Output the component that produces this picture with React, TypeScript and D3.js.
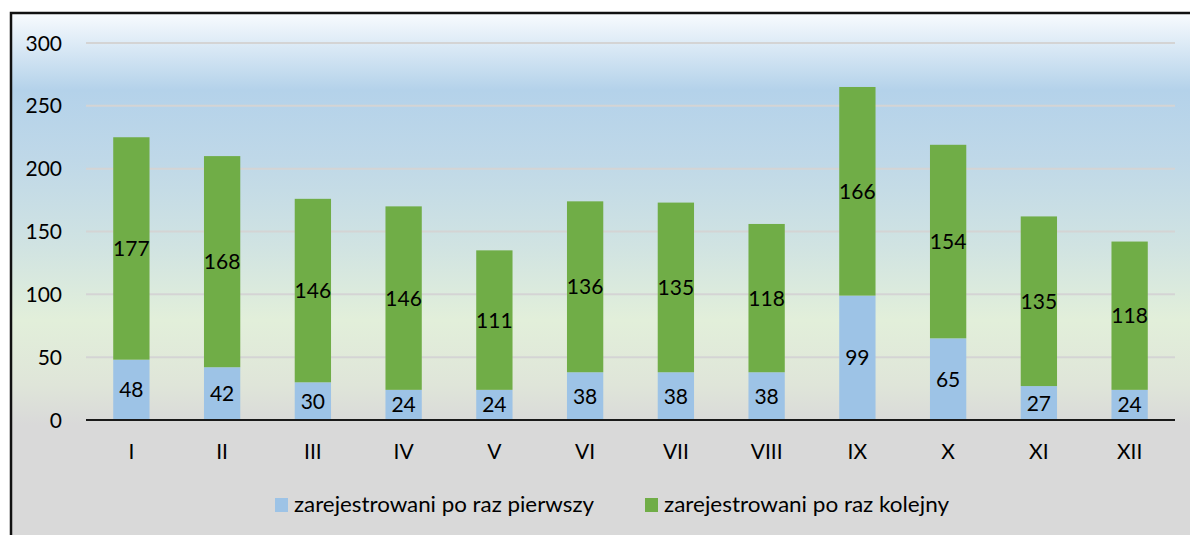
import React from "react";
import * as d3 from "d3";

const categories = ["I", "II", "III", "IV", "V", "VI", "VII", "VIII", "IX", "X", "XI", "XII"];
const firstTime = [48, 42, 30, 24, 24, 38, 38, 38, 99, 65, 27, 24];
const nextTime = [177, 168, 146, 146, 111, 136, 135, 118, 166, 154, 135, 118];
const seriesNames = ["zarejestrowani po raz pierwszy", "zarejestrowani po raz kolejny"];
const seriesColors = ["#9dc3e6", "#70ad47"];
const yTicks = [0, 50, 100, 150, 200, 250, 300];

const W = 1190;
const H = 535;
const FONT = "Lato, 'Open Sans', sans-serif";

export default function App() {
  const x = d3.scaleBand<string>().domain(categories).range([86, 1175]).paddingInner(0.6).paddingOuter(0.3);
  const y = d3.scaleLinear().domain([0, 300]).range([420, 43]);

  const rows = categories.map((c, i) => ({ cat: c, a: firstTime[i], b: nextTime[i] }));
  const stacked = d3.stack<any>().keys(["a", "b"])(rows);

  const legendX = [275, 645];
  const legendLen = [300, 285];

  return (
    <div style={{ position: "absolute", left: 0, top: 0 }}>
      <svg width={W} height={H} style={{ display: "block" }}>
        <defs>
          <linearGradient id="bg" gradientUnits="userSpaceOnUse" x1="0" y1="13" x2="0" y2="535">
            <stop offset={0} stopColor="#f8fbfe" />
            <stop offset={(90 - 13) / 522} stopColor="#b4d2ea" />
            <stop offset={(160 - 13) / 522} stopColor="#bfd8e8" />
            <stop offset={(245 - 13) / 522} stopColor="#d0e3e2" />
            <stop offset={(320 - 13) / 522} stopColor="#e2efda" />
            <stop offset={(385 - 13) / 522} stopColor="#dfe5d9" />
            <stop offset={(425 - 13) / 522} stopColor="#d9d9d9" />
            <stop offset={1} stopColor="#d9d9d9" />
          </linearGradient>
        </defs>
        <rect x={11} y={13} width={W + 10} height={H} fill="url(#bg)" stroke="#111" strokeWidth={2.5} />

        {yTicks.map((t) => (
          <g key={t}>
            {t > 0 && <line x1={86} x2={1175} y1={y(t)} y2={y(t)} stroke="#d4d4d4" strokeWidth={2} />}
            <text x={62} y={y(t)} dy="0.36em" textAnchor="end" fontFamily={FONT} fontSize={21} fill="#000">
              {t}
            </text>
          </g>
        ))}

        {stacked.map((s, si) => (
          <g key={si}>
            {s.map((d, i) => (
              <g key={i}>
                <rect
                  x={x(categories[i])}
                  width={x.bandwidth()}
                  y={y(d[1])}
                  height={y(d[0]) - y(d[1])}
                  fill={seriesColors[si]}
                />
                <text
                  x={(x(categories[i]) as number) + x.bandwidth() / 2}
                  y={(y(d[0]) + y(d[1])) / 2}
                  dy="0.36em"
                  textAnchor="middle"
                  fontFamily={FONT}
                  fontSize={21}
                  fill="#000"
                >
                  {d[1] - d[0]}
                </text>
              </g>
            ))}
          </g>
        ))}

        <line x1={86} x2={1175} y1={y(0)} y2={y(0)} stroke="#1a1a1a" strokeWidth={2} />

        {categories.map((c) => (
          <text
            key={c}
            x={(x(c) as number) + x.bandwidth() / 2}
            y={459}
            textAnchor="middle"
            fontFamily={FONT}
            fontSize={21}
            fill="#000"
          >
            {c}
          </text>
        ))}

        {seriesNames.map((n, i) => (
          <g key={n}>
            <rect x={legendX[i]} y={498} width={13} height={14} fill={seriesColors[i]} />
            <text
              x={legendX[i] + 19}
              y={512}
              fontFamily={FONT}
              fontSize={21}
              fill="#000"
              textLength={legendLen[i]}
              lengthAdjust="spacingAndGlyphs"
            >
              {n}
            </text>
          </g>
        ))}
      </svg>
    </div>
  );
}
